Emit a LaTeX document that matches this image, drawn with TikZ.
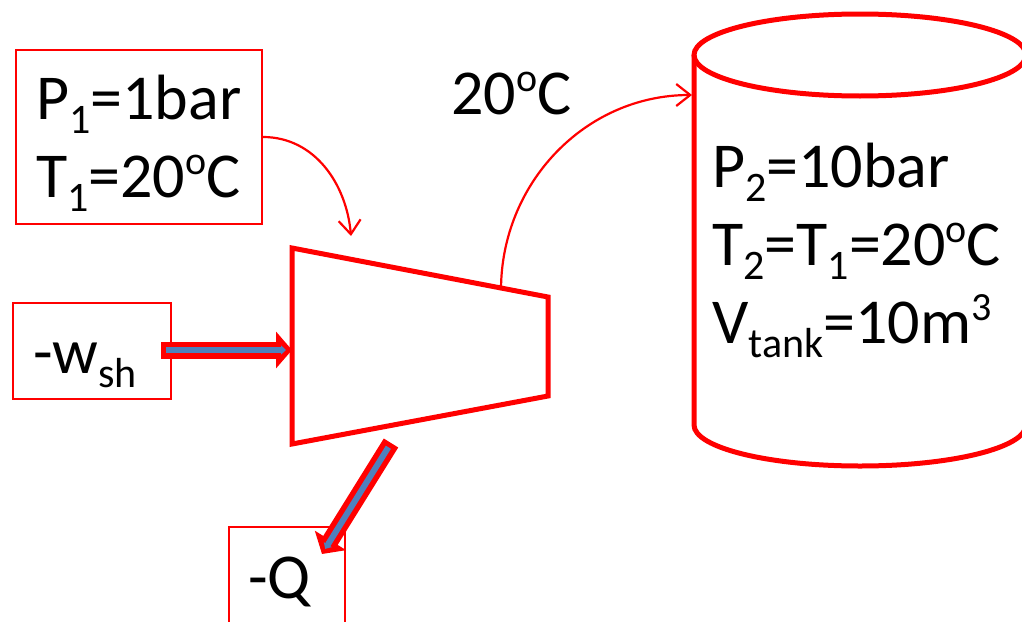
\documentclass[tikz,border=0pt]{standalone}
\usepackage{fontspec}
\setmainfont{Carlito}
\usetikzlibrary{arrows.meta}
\definecolor{flowblue}{HTML}{4F81BD}
\newcommand{\lowtext}[1]{\raisebox{-14pt}{\fontsize{42}{42}\selectfont #1}}
\newcommand{\hightext}[1]{\raisebox{23pt}{\fontsize{40}{40}\selectfont #1}}
\tikzset{
  bigtext/.style={font=\fontsize{64}{78}\selectfont, inner sep=0pt, align=left, anchor=base west},
  infobox/.style={draw=red, line width=1.8pt, inner sep=0pt},
  wall/.style={draw=red, line width=5pt, line join=miter},
  thinflow/.style={draw=red, line width=2.2pt, -{Straight Barb[length=14pt,width=22pt,line width=2.2pt]}},
  fatflow/.style={draw=red, line width=17pt, -{Triangle[length=16pt,width=36pt]},
    postaction={draw=flowblue, line width=6pt, shorten <=5pt, shorten >=6pt, -{Triangle[length=5pt,width=9pt]}}},
}
\begin{document}
\begin{tikzpicture}[x=1pt,y=-1pt]
\useasboundingbox (0,0) rectangle (1022,621);
\clip (0,0) rectangle (1022,621);

% boxes
\foreach \name/\cx/\cy/\w/\h in {pbox/139/137/246/174, wbox/92/351/158/96, qbox/287/584/116/114}
  \node [infobox, minimum width=\w pt, minimum height=\h pt] (\name) at (\cx,\cy) {};

\node [bigtext] (ptext) at (36,197) {P\lowtext{1}=1bar\\T\lowtext{1}=20\hightext{o}C};
\node [bigtext] (wtext) at (33,373) {-w\lowtext{sh}};
\node [bigtext] (qtext) at (248,598) {-Q};
\node [bigtext] (ctext) at (451,114) {20\hightext{o}C};
\node [bigtext] (ttext) at (712,343) {P\lowtext{2}=10bar\\T\lowtext{2}=T\lowtext{1}=20\hightext{o}C\\V\lowtext{tank}=10m\hightext{3}};

% turbine
\coordinate (tleft) at (292,248);
\coordinate (tright) at (548,297);
\coordinate (bright) at (548,396);
\coordinate (bleft) at (292,444);
\draw [wall] (tleft) -- (tright) -- (bright) -- (bleft) -- cycle;

% tank
\draw [wall] (860,55) ellipse [x radius=166, y radius=41];
\draw [wall] (694,55) -- (694,425) arc [start angle=180, end angle=0, x radius=166, y radius=41] -- (1026,55);

% flows
\coordinate (inlet) at (351,236);
\coordinate (outlet) at (501,290);
\coordinate (tankin) at (692,95);
\coordinate (wstart) at (161,350);
\coordinate (wend) at (292,350);
\coordinate (qstart) at (391,443);
\coordinate (qend) at (322,554);
\draw [thinflow] (pbox.east) to [out=0,in=95] (inlet);
\draw [thinflow] (outlet) to [out=90,in=180] (tankin);
\draw [fatflow] (wstart) -- (wend);
\draw [fatflow] (qstart) -- (qend);
\end{tikzpicture}
\end{document}
